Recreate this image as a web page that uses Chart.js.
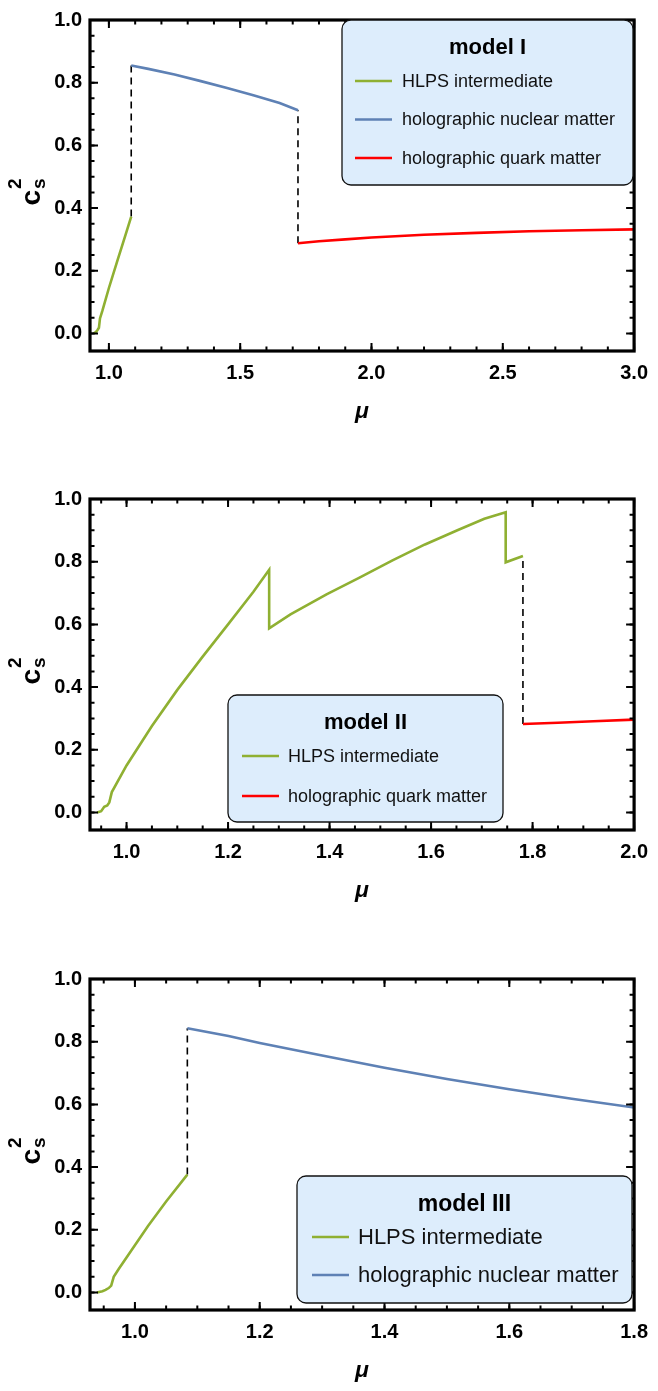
<!DOCTYPE html>
<html>
<head>
<meta charset="utf-8">
<script src="https://cdn.jsdelivr.net/npm/chart.js@4.4.1/dist/chart.umd.min.js"></script>
<style>
  html, body { margin: 0; padding: 0; background: #fff; }
  .panel { position: absolute; left: 0; width: 658px; }
  canvas { display: block; }
</style>
</head>
<body>
<div class="panel" style="top:0px"><canvas id="chart1" width="658" height="470"></canvas></div>
<div class="panel" style="top:479px"><canvas id="chart2" width="658" height="470"></canvas></div>
<div class="panel" style="top:959px"><canvas id="chart3" width="658" height="432"></canvas></div>
<script>
// ---- model I ----
var m1HlpsMu     = [0.942, 0.950, 0.956, 0.962, 0.966, 0.975, 1.000, 1.030, 1.060, 1.085];
var m1HlpsCs2    = [0.000, 0.004, 0.010, 0.018, 0.048, 0.072, 0.145, 0.226, 0.306, 0.373];
var m1NuclearMu  = [1.085, 1.15, 1.25, 1.35, 1.45, 1.55, 1.65, 1.72];
var m1NuclearCs2 = [0.855, 0.844, 0.826, 0.805, 0.783, 0.760, 0.735, 0.712];
var m1QuarkMu    = [1.72, 1.80, 1.90, 2.00, 2.20, 2.40, 2.60, 2.80, 3.00];
var m1QuarkCs2   = [0.288, 0.294, 0.300, 0.306, 0.315, 0.321, 0.326, 0.329, 0.332];
var m1JumpMu     = [1.085, 1.72];
var m1JumpLow    = [0.373, 0.288];
var m1JumpHigh   = [0.855, 0.712];

// ---- model II ----
var m2HlpsMu  = [0.942, 0.950, 0.956, 0.962, 0.966, 0.971, 1.000, 1.050, 1.100, 1.150, 1.200, 1.250, 1.281,
                 1.281, 1.323, 1.394, 1.459, 1.524, 1.588, 1.653, 1.705, 1.747, 1.747, 1.781];
var m2HlpsCs2 = [0.000, 0.004, 0.018, 0.022, 0.032, 0.065, 0.150, 0.276, 0.391, 0.497, 0.600, 0.704, 0.774,
                 0.587, 0.632, 0.696, 0.749, 0.804, 0.855, 0.901, 0.937, 0.958, 0.798, 0.818];
var m2QuarkMu  = [1.781, 1.85, 1.92, 2.00];
var m2QuarkCs2 = [0.282, 0.286, 0.291, 0.296];
var m2JumpMu   = [1.781];
var m2JumpLow  = [0.282];
var m2JumpHigh = [0.818];

// ---- model III ----
var m3HlpsMu     = [0.939, 0.948, 0.953, 0.958, 0.962, 0.966, 0.974, 1.021, 1.050, 1.084];
var m3HlpsCs2    = [0.000, 0.004, 0.008, 0.014, 0.022, 0.050, 0.075, 0.212, 0.290, 0.376];
var m3NuclearMu  = [1.084, 1.15, 1.20, 1.30, 1.40, 1.50, 1.60, 1.70, 1.80];
var m3NuclearCs2 = [0.843, 0.818, 0.796, 0.756, 0.717, 0.681, 0.648, 0.618, 0.590];
var m3JumpMu     = [1.084];
var m3JumpLow    = [0.376];
var m3JumpHigh   = [0.843];

// ---- axes ----
var yTicks  = [0.0, 0.2, 0.4, 0.6, 0.8, 1.0];
var x1Ticks = [1.0, 1.5, 2.0, 2.5, 3.0];
var x2Ticks = [1.0, 1.2, 1.4, 1.6, 1.8, 2.0];
var x3Ticks = [1.0, 1.2, 1.4, 1.6, 1.8];

var GREEN = '#8fb032', BLUE = '#5e81b5', RED = '#ff0000';
var FONT = '"Liberation Sans", Arial, sans-serif';
Chart.defaults.font.family = FONT;
Chart.defaults.color = '#000';

function pts(xs, ys) {
  return xs.map(function (x, i) { return { x: x, y: ys[i] }; });
}

function curve(label, color, xs, ys) {
  return { label: label, data: pts(xs, ys), borderColor: color, backgroundColor: color,
           borderWidth: 2.6, pointRadius: 0, tension: 0, fill: false };
}

function jumps(xs, lows, highs) {
  return xs.map(function (x, i) {
    return { label: '', data: [{ x: x, y: lows[i] }, { x: x, y: highs[i] }],
             borderColor: '#000', borderWidth: 1.6, borderDash: [7, 5],
             pointRadius: 0, fill: false };
  });
}

// frame with inward ticks on all four sides
var frameBox = {
  id: 'frameBox',
  afterDatasetsDraw: function (chart, args, o) {
    var ctx = chart.ctx, a = chart.chartArea;
    var xs = chart.scales.x, ys = chart.scales.y;
    ctx.save();
    ctx.strokeStyle = '#000';
    ctx.lineWidth = 2;
    function stepVals(lo, hi, step) {
      var out = [], v = Math.ceil(lo / step - 1e-9) * step;
      for (; v <= hi + 1e-9; v += step) out.push(Math.round(v * 1000) / 1000);
      return out;
    }
    function drawX(vals, len) {
      vals.forEach(function (v) {
        var p = xs.getPixelForValue(v);
        ctx.beginPath();
        ctx.moveTo(p, a.bottom); ctx.lineTo(p, a.bottom - len);
        ctx.moveTo(p, a.top); ctx.lineTo(p, a.top + len);
        ctx.stroke();
      });
    }
    function drawY(vals, len) {
      vals.forEach(function (v) {
        var p = ys.getPixelForValue(v);
        ctx.beginPath();
        ctx.moveTo(a.left, p); ctx.lineTo(a.left + len, p);
        ctx.moveTo(a.right, p); ctx.lineTo(a.right - len, p);
        ctx.stroke();
      });
    }
    drawX(stepVals(xs.min, xs.max, o.xMinor), 4.5);
    drawX(stepVals(xs.min, xs.max, o.xMajor), 8);
    drawY(stepVals(0, ys.max, 0.05), 4.5);
    drawY(stepVals(0, ys.max, 0.2), 8);
    ctx.lineWidth = 3.2;
    ctx.strokeRect(a.left, a.top, a.right - a.left, a.bottom - a.top);
    ctx.restore();
  }
};

// y-axis title c_s^2
var csTitle = {
  id: 'csTitle',
  afterDraw: function (chart) {
    var ctx = chart.ctx, a = chart.chartArea;
    ctx.save();
    ctx.translate(26, (a.top + a.bottom) / 2);
    ctx.rotate(-Math.PI / 2);
    ctx.fillStyle = '#000';
    ctx.textBaseline = 'alphabetic';
    ctx.textAlign = 'left';
    ctx.font = 'bold 28px ' + FONT;
    var cw = ctx.measureText('c').width;
    var x0 = -20;
    ctx.fillText('c', x0, 14);
    ctx.font = 'bold 19px ' + FONT;
    ctx.fillText('2', x0 + cw + 1, -5);
    ctx.fillText('s', x0 + cw + 1, 19);
    ctx.restore();
  }
};

// boxed legend inside the plot
var boxLegend = {
  id: 'boxLegend',
  afterDraw: function (chart, args, o) {
    var ctx = chart.ctx;
    var items = chart.data.datasets.filter(function (d) { return d.label; });
    var x = o.x, y = o.y, w = o.w, h = o.h, r = 9;
    ctx.save();
    ctx.beginPath();
    ctx.moveTo(x + r, y);
    ctx.arcTo(x + w, y, x + w, y + h, r);
    ctx.arcTo(x + w, y + h, x, y + h, r);
    ctx.arcTo(x, y + h, x, y, r);
    ctx.arcTo(x, y, x + w, y, r);
    ctx.closePath();
    ctx.fillStyle = '#ddedfc';
    ctx.fill();
    ctx.strokeStyle = '#111';
    ctx.lineWidth = 1.3;
    ctx.stroke();
    ctx.fillStyle = '#000';
    ctx.textBaseline = 'middle';
    ctx.textAlign = 'center';
    ctx.font = 'bold ' + o.titleSize + 'px ' + FONT;
    ctx.fillText(o.title, x + w / 2, y + o.titleY);
    ctx.textAlign = 'left';
    ctx.font = o.itemSize + 'px ' + FONT;
    items.forEach(function (d, i) {
      var ry = y + o.rowY + i * o.rowGap;
      ctx.strokeStyle = d.borderColor;
      ctx.lineWidth = 2.6;
      ctx.beginPath();
      ctx.moveTo(x + o.lineX, ry);
      ctx.lineTo(x + o.lineX + 37, ry);
      ctx.stroke();
      ctx.fillStyle = '#111';
      ctx.fillText(d.label, x + o.textX, ry + 1);
    });
    ctx.restore();
  }
};

function makePanel(id, datasets, xMin, xMax, xTicks, xMajor, xMinor, legend) {
  var canvas = document.getElementById(id);
  var H = canvas.height;
  return new Chart(canvas, {
    type: 'line',
    data: { datasets: datasets },
    plugins: [frameBox, csTitle, boxLegend],
    options: {
      responsive: false,
      animation: false,
      devicePixelRatio: 1,
      layout: { padding: { left: 0, right: 16, top: 11, bottom: 0 } },
      plugins: {
        legend: { display: false },
        tooltip: { enabled: false },
        frameBox: { xMajor: xMajor, xMinor: xMinor },
        boxLegend: legend
      },
      scales: {
        x: {
          type: 'linear',
          min: xMin,
          max: xMax,
          grid: { display: false, drawTicks: false },
          border: { display: false },
          afterBuildTicks: function (s) { s.ticks = xTicks.map(function (v) { return { value: v }; }); },
          afterFit: function (s) { s.height = H - 11 - 340; },
          ticks: { padding: 10, font: { size: 20, weight: 'bold' }, maxRotation: 0,
                   callback: function (v) { return v.toFixed(1); } },
          title: { display: true, text: 'μ', font: { size: 23, weight: 'bold', style: 'italic' },
                   padding: { top: 0, bottom: H - 351 - 60 - 14 } }
        },
        y: {
          min: -0.056,
          max: 1.0,
          grid: { display: false, drawTicks: false },
          border: { display: false },
          afterBuildTicks: function (s) { s.ticks = yTicks.map(function (v) { return { value: v }; }); },
          afterFit: function (s) { s.width = 90; },
          ticks: { padding: 8, font: { size: 20, weight: 'bold' },
                   callback: function (v) { return v.toFixed(1); } }
        }
      }
    }
  });
}

makePanel('chart1',
  [curve('HLPS intermediate', GREEN, m1HlpsMu, m1HlpsCs2),
   curve('holographic nuclear matter', BLUE, m1NuclearMu, m1NuclearCs2),
   curve('holographic quark matter', RED, m1QuarkMu, m1QuarkCs2)]
    .concat(jumps(m1JumpMu, m1JumpLow, m1JumpHigh)),
  0.928, 3.0, x1Ticks, 0.5, 0.1,
  { title: 'model I', x: 342, y: 20, w: 291, h: 165, titleSize: 22, itemSize: 18,
    titleY: 28, rowY: 61, rowGap: 38.5, lineX: 13, textX: 60 });

makePanel('chart2',
  [curve('HLPS intermediate', GREEN, m2HlpsMu, m2HlpsCs2),
   curve('holographic quark matter', RED, m2QuarkMu, m2QuarkCs2)]
    .concat(jumps(m2JumpMu, m2JumpLow, m2JumpHigh)),
  0.928, 2.0, x2Ticks, 0.2, 0.05,
  { title: 'model II', x: 228, y: 216, w: 275, h: 127, titleSize: 22, itemSize: 18,
    titleY: 28, rowY: 61, rowGap: 40, lineX: 14, textX: 60 });

makePanel('chart3',
  [curve('HLPS intermediate', GREEN, m3HlpsMu, m3HlpsCs2),
   curve('holographic nuclear matter', BLUE, m3NuclearMu, m3NuclearCs2)]
    .concat(jumps(m3JumpMu, m3JumpLow, m3JumpHigh)),
  0.928, 1.8, x3Ticks, 0.2, 0.05,
  { title: 'model III', x: 297, y: 217, w: 335, h: 127, titleSize: 23, itemSize: 22,
    titleY: 29, rowY: 61, rowGap: 38, lineX: 15, textX: 61 });
</script>
</body>
</html>
